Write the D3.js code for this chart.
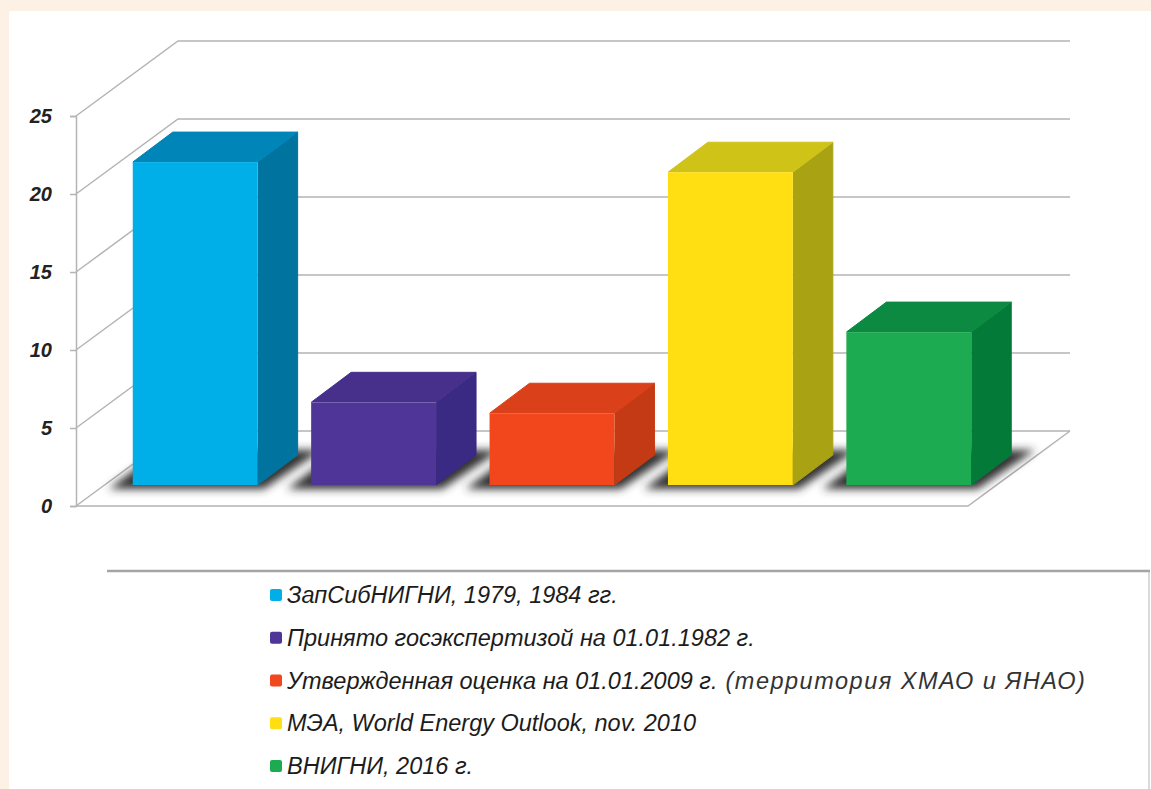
<!DOCTYPE html>
<html lang="ru">
<head>
<meta charset="utf-8">
<script src="https://cdn.jsdelivr.net/npm/d3@7"></script>
<style>
  html, body { margin: 0; padding: 0; background: #fdf0e4; }
  svg { display: block; }
  text { font-family: "Liberation Sans", Arial, sans-serif; font-style: italic; }
</style>
</head>
<body>
<svg id="chart" width="1151" height="789"></svg>
<script>
// Estimates by source, in the chart's own units
const sources = [
  "ЗапСибНИГНИ, 1979, 1984 гг.",
  "Принято госэкспертизой на 01.01.1982 г.",
  "Утвержденная оценка на 01.01.2009 г.",
  "МЭА, World Energy Outlook, nov. 2010",
  "ВНИГНИ, 2016 г."
];
const legendNotes = ["", "", " (территория ХМАО и ЯНАО)", "", ""];
const values = [20.7, 5.3, 4.6, 20.05, 9.8];
const yTicks = [0, 5, 10, 15, 20, 25];
const frontColors = ["#00aee8", "#4f3597", "#f2461d", "#ffde12", "#1cab50"];
const topColors = ["#0085b8", "#46308c", "#da401a", "#cfc318", "#0d8a42"];
const sideColors = ["#00749f", "#3a2a83", "#c43a14", "#a9a213", "#037a38"];

const svg = d3.select("#chart");
const gridColor = "#b4b4b4";

// Oblique projection of the chart box
const wallDX = 102, wallDY = -75;
const barDX = 40, barDY = -30;
const left = 76, right = 968, baseOffset = 21;

const y = d3.scaleLinear().domain([0, 25]).range([506, 116]);
const x = d3.scaleBand().domain(sources)
  .range([left + 30, right + 30])
  .paddingInner(0.3).paddingOuter(0.15);
const legendY = d3.scalePoint().domain(sources).range([603, 774]);

// Blur used for the shadows cast on the floor
svg.append("defs").append("filter").attr("id", "soft")
  .attr("x", "-20%").attr("y", "-40%").attr("width", "140%").attr("height", "180%")
  .append("feGaussianBlur").attr("stdDeviation", 4);

// Paper and white panel
svg.append("rect").attr("x", 9).attr("y", 11).attr("width", 1142).attr("height", 778).attr("fill", "#ffffff");

// Wall grid and floor
const grid = svg.append("g").attr("fill", "none").attr("stroke", gridColor).attr("stroke-width", 1.5);
grid.selectAll("path.wall").data(yTicks).join("path").attr("class", "wall")
  .attr("d", t => d3.line()([
    [left, y(t)],
    [left + wallDX, y(t) + wallDY],
    [right + wallDX, y(t) + wallDY]
  ]));
grid.append("path").attr("d", d3.line()([
  [left, y(0)], [right, y(0)], [right + wallDX, y(0) + wallDY]
]));

// Vertical axis with outward tick stubs
const axis = svg.append("g").attr("transform", `translate(${left},0)`)
  .call(d3.axisLeft(y).tickValues(yTicks).tickSize(6).tickPadding(18).tickFormat(d3.format("d")));
axis.selectAll("path, line").attr("stroke", gridColor).attr("stroke-width", 1.5);
axis.selectAll("text")
  .attr("fill", "#222222")
  .style("font-size", "20px").style("font-weight", "700").style("font-style", "italic")
  .style("font-family", "'Liberation Sans', Arial, sans-serif");

const base = y(0) - baseOffset;

// Floor shadows behind each bar
svg.append("g").selectAll("path").data(sources).join("path")
  .attr("d", s => {
    const x0 = x(s), w = x.bandwidth();
    return d3.line()([
      [x0 - 24, base + 4], [x0 + w + 6, base + 4],
      [x0 + w + 64, base - 35], [x0 + 28, base - 35]
    ]);
  })
  .attr("fill", "#303030")
  .attr("filter", "url(#soft)");

// Bars as three visible faces of a box
const bars = svg.append("g").selectAll("g").data(sources).join("g");
const barTop = (s, i) => base - (y(0) - y(values[i]));

bars.append("path").attr("class", "side")
  .attr("fill", (s, i) => sideColors[i])
  .attr("stroke", (s, i) => sideColors[i])
  .attr("d", (s, i) => {
    const xr = x(s) + x.bandwidth(), t = barTop(s, i);
    return d3.line()([[xr, t], [xr + barDX, t + barDY], [xr + barDX, base + barDY], [xr, base]]);
  });
bars.append("path").attr("class", "top")
  .attr("fill", (s, i) => topColors[i])
  .attr("stroke", (s, i) => topColors[i])
  .attr("stroke-linejoin", "round")
  .attr("d", (s, i) => {
    const x0 = x(s), xr = x0 + x.bandwidth(), t = barTop(s, i);
    return d3.line()([[x0, t], [x0 + barDX, t + barDY], [xr + barDX, t + barDY], [xr, t]]);
  });
bars.append("rect").attr("class", "front")
  .attr("x", s => x(s))
  .attr("y", (s, i) => barTop(s, i))
  .attr("width", x.bandwidth())
  .attr("height", (s, i) => base - barTop(s, i))
  .attr("fill", (s, i) => frontColors[i]);

// Legend frame: heavy top rule, thin right edge
svg.append("line").attr("x1", 107).attr("x2", 1150).attr("y1", 571).attr("y2", 571)
  .attr("stroke", "#a4a4a4").attr("stroke-width", 2.5);
svg.append("line").attr("x1", 1149).attr("x2", 1149).attr("y1", 571).attr("y2", 789)
  .attr("stroke", "#b4b4b4").attr("stroke-width", 1);

const legend = svg.append("g").selectAll("g").data(sources).join("g")
  .attr("transform", s => `translate(0,${legendY(s)})`);
legend.append("rect")
  .attr("x", 270).attr("y", -14).attr("width", 12).attr("height", 12).attr("rx", 2)
  .attr("fill", (s, i) => frontColors[i]);
const labels = legend.append("text")
  .attr("x", 287).attr("fill", "#1c1c1c").style("font-size", "23.5px");
labels.append("tspan").text(s => s);
labels.append("tspan").attr("fill", "#333333").style("letter-spacing", "1.5px").text((s, i) => legendNotes[i]);
</script>
</body>
</html>
